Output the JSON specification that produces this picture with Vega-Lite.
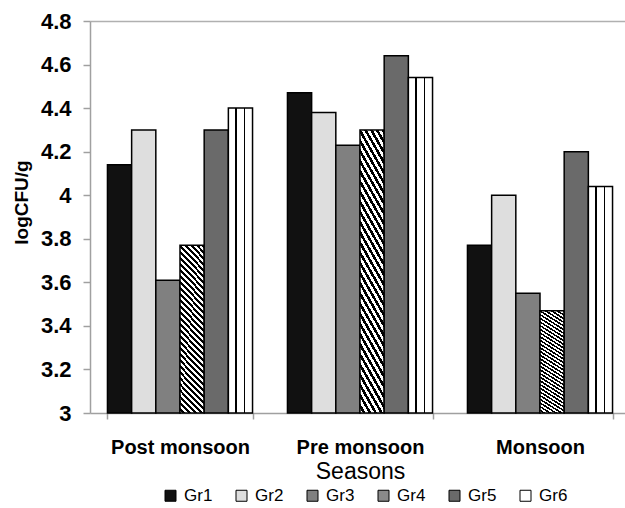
{
  "$schema": "https://vega.github.io/schema/vega-lite/v6.json",
  "width": 535,
  "height": 392,
  "autosize": {"type": "none"},
  "padding": {"left": 90, "top": 21, "right": 0, "bottom": 95},
  "background": "white",
  "config": {"view": {"stroke": null}, "font": "Liberation Sans"},
  "data": {
    "values": [
      {"season": "Post monsoon", "group": "Gr1", "value": 4.14},
      {"season": "Post monsoon", "group": "Gr2", "value": 4.30},
      {"season": "Post monsoon", "group": "Gr3", "value": 3.61},
      {"season": "Post monsoon", "group": "Gr4", "value": 3.77},
      {"season": "Post monsoon", "group": "Gr5", "value": 4.30},
      {"season": "Post monsoon", "group": "Gr6", "value": 4.40},
      {"season": "Pre monsoon", "group": "Gr1", "value": 4.47},
      {"season": "Pre monsoon", "group": "Gr2", "value": 4.38},
      {"season": "Pre monsoon", "group": "Gr3", "value": 4.23},
      {"season": "Pre monsoon", "group": "Gr4", "value": 4.30},
      {"season": "Pre monsoon", "group": "Gr5", "value": 4.64},
      {"season": "Pre monsoon", "group": "Gr6", "value": 4.54},
      {"season": "Monsoon", "group": "Gr1", "value": 3.77},
      {"season": "Monsoon", "group": "Gr2", "value": 4.00},
      {"season": "Monsoon", "group": "Gr3", "value": 3.55},
      {"season": "Monsoon", "group": "Gr4", "value": 3.47},
      {"season": "Monsoon", "group": "Gr5", "value": 4.20},
      {"season": "Monsoon", "group": "Gr6", "value": 4.04}
    ]
  },
  "mark": {"type": "bar", "stroke": "#000", "strokeWidth": 1.5},
  "encoding": {
    "x": {
      "field": "season",
      "type": "nominal",
      "sort": ["Post monsoon", "Pre monsoon", "Monsoon"],
      "scale": {"range": [0, 540], "paddingInner": 0.194, "paddingOuter": 0.097},
      "axis": {
        "labelAngle": 0,
        "labelFontSize": 20,
        "labelFontWeight": "bold",
        "labelColor": "#000",
        "labelPadding": 18,
        "tickBand": "extent",
        "tickColor": "#a0a0a0",
        "tickSize": 6,
        "tickWidth": 1.5,
        "domainColor": "#a0a0a0",
        "domainWidth": 1.5,
        "title": "Seasons",
        "titleFontSize": 23,
        "titleFontWeight": "normal",
        "titleColor": "#000",
        "titlePadding": 3
      }
    },
    "xOffset": {
      "field": "group",
      "type": "nominal",
      "scale": {"paddingInner": 0, "paddingOuter": 0}
    },
    "y": {
      "field": "value",
      "type": "quantitative",
      "scale": {"domain": [3, 4.8], "zero": false, "nice": false},
      "axis": {
        "values": [3, 3.2, 3.4, 3.6, 3.8, 4, 4.2, 4.4, 4.6, 4.8],
        "format": ".1~f",
        "labelFontSize": 22,
        "labelFontWeight": "bold",
        "labelColor": "#000",
        "labelPadding": 12,
        "tickColor": "#a0a0a0",
        "tickSize": 7,
        "tickWidth": 1.5,
        "domainColor": "#a0a0a0",
        "domainWidth": 1.5,
        "grid": true,
        "gridColor": "#b0b0b0",
        "gridWidth": 1.5,
        "gridOpacity": {"condition": {"test": "datum.value > 4.79", "value": 1}, "value": 0},
        "title": "logCFU/g",
        "titleFontSize": 19,
        "titleFontWeight": "bold",
        "titleColor": "#000",
        "titlePadding": 9,
        "titleY": 181
      }
    },
    "y2": {"datum": 3},
    "fill": {
      "field": "group",
      "type": "nominal",
      "scale": {
        "domain": ["Gr1", "Gr2", "Gr3", "Gr4", "Gr5", "Gr6"],
        "range": ["#111111", "#dedede", "#808080", "#8a8a8a", "#6a6a6a", "#ffffff"]
      },
      "condition": [
        {"test": "datum.group === 'Gr4'", "value": {"gradient": "linear", "x1": 1, "y1": 0, "x2": 0.831, "y2": 1.125, "stops": [
            {"offset": 0, "color": "#000"}, {"offset": 0.0156, "color": "#000"}, {"offset": 0.0156, "color": "#fff"}, {"offset": 0.0313, "color": "#fff"},
            {"offset": 0.0313, "color": "#000"}, {"offset": 0.0469, "color": "#000"}, {"offset": 0.0469, "color": "#fff"}, {"offset": 0.0625, "color": "#fff"},
            {"offset": 0.0625, "color": "#000"}, {"offset": 0.0781, "color": "#000"}, {"offset": 0.0781, "color": "#fff"}, {"offset": 0.0938, "color": "#fff"},
            {"offset": 0.0938, "color": "#000"}, {"offset": 0.1094, "color": "#000"}, {"offset": 0.1094, "color": "#fff"}, {"offset": 0.125, "color": "#fff"},
            {"offset": 0.125, "color": "#000"}, {"offset": 0.1406, "color": "#000"}, {"offset": 0.1406, "color": "#fff"}, {"offset": 0.1563, "color": "#fff"},
            {"offset": 0.1563, "color": "#000"}, {"offset": 0.1719, "color": "#000"}, {"offset": 0.1719, "color": "#fff"}, {"offset": 0.1875, "color": "#fff"},
            {"offset": 0.1875, "color": "#000"}, {"offset": 0.2031, "color": "#000"}, {"offset": 0.2031, "color": "#fff"}, {"offset": 0.2188, "color": "#fff"},
            {"offset": 0.2188, "color": "#000"}, {"offset": 0.2344, "color": "#000"}, {"offset": 0.2344, "color": "#fff"}, {"offset": 0.25, "color": "#fff"},
            {"offset": 0.25, "color": "#000"}, {"offset": 0.2656, "color": "#000"}, {"offset": 0.2656, "color": "#fff"}, {"offset": 0.2813, "color": "#fff"},
            {"offset": 0.2813, "color": "#000"}, {"offset": 0.2969, "color": "#000"}, {"offset": 0.2969, "color": "#fff"}, {"offset": 0.3125, "color": "#fff"},
            {"offset": 0.3125, "color": "#000"}, {"offset": 0.3281, "color": "#000"}, {"offset": 0.3281, "color": "#fff"}, {"offset": 0.3438, "color": "#fff"},
            {"offset": 0.3438, "color": "#000"}, {"offset": 0.3594, "color": "#000"}, {"offset": 0.3594, "color": "#fff"}, {"offset": 0.375, "color": "#fff"},
            {"offset": 0.375, "color": "#000"}, {"offset": 0.3906, "color": "#000"}, {"offset": 0.3906, "color": "#fff"}, {"offset": 0.4063, "color": "#fff"},
            {"offset": 0.4063, "color": "#000"}, {"offset": 0.4219, "color": "#000"}, {"offset": 0.4219, "color": "#fff"}, {"offset": 0.4375, "color": "#fff"},
            {"offset": 0.4375, "color": "#000"}, {"offset": 0.4531, "color": "#000"}, {"offset": 0.4531, "color": "#fff"}, {"offset": 0.4688, "color": "#fff"},
            {"offset": 0.4688, "color": "#000"}, {"offset": 0.4844, "color": "#000"}, {"offset": 0.4844, "color": "#fff"}, {"offset": 0.5, "color": "#fff"},
            {"offset": 0.5, "color": "#000"}, {"offset": 0.5156, "color": "#000"}, {"offset": 0.5156, "color": "#fff"}, {"offset": 0.5313, "color": "#fff"},
            {"offset": 0.5313, "color": "#000"}, {"offset": 0.5469, "color": "#000"}, {"offset": 0.5469, "color": "#fff"}, {"offset": 0.5625, "color": "#fff"},
            {"offset": 0.5625, "color": "#000"}, {"offset": 0.5781, "color": "#000"}, {"offset": 0.5781, "color": "#fff"}, {"offset": 0.5938, "color": "#fff"},
            {"offset": 0.5938, "color": "#000"}, {"offset": 0.6094, "color": "#000"}, {"offset": 0.6094, "color": "#fff"}, {"offset": 0.625, "color": "#fff"},
            {"offset": 0.625, "color": "#000"}, {"offset": 0.6406, "color": "#000"}, {"offset": 0.6406, "color": "#fff"}, {"offset": 0.6563, "color": "#fff"},
            {"offset": 0.6563, "color": "#000"}, {"offset": 0.6719, "color": "#000"}, {"offset": 0.6719, "color": "#fff"}, {"offset": 0.6875, "color": "#fff"},
            {"offset": 0.6875, "color": "#000"}, {"offset": 0.7031, "color": "#000"}, {"offset": 0.7031, "color": "#fff"}, {"offset": 0.7188, "color": "#fff"},
            {"offset": 0.7188, "color": "#000"}, {"offset": 0.7344, "color": "#000"}, {"offset": 0.7344, "color": "#fff"}, {"offset": 0.75, "color": "#fff"},
            {"offset": 0.75, "color": "#000"}, {"offset": 0.7656, "color": "#000"}, {"offset": 0.7656, "color": "#fff"}, {"offset": 0.7813, "color": "#fff"},
            {"offset": 0.7813, "color": "#000"}, {"offset": 0.7969, "color": "#000"}, {"offset": 0.7969, "color": "#fff"}, {"offset": 0.8125, "color": "#fff"},
            {"offset": 0.8125, "color": "#000"}, {"offset": 0.8281, "color": "#000"}, {"offset": 0.8281, "color": "#fff"}, {"offset": 0.8438, "color": "#fff"},
            {"offset": 0.8438, "color": "#000"}, {"offset": 0.8594, "color": "#000"}, {"offset": 0.8594, "color": "#fff"}, {"offset": 0.875, "color": "#fff"},
            {"offset": 0.875, "color": "#000"}, {"offset": 0.8906, "color": "#000"}, {"offset": 0.8906, "color": "#fff"}, {"offset": 0.9063, "color": "#fff"},
            {"offset": 0.9063, "color": "#000"}, {"offset": 0.9219, "color": "#000"}, {"offset": 0.9219, "color": "#fff"}, {"offset": 0.9375, "color": "#fff"},
            {"offset": 0.9375, "color": "#000"}, {"offset": 0.9531, "color": "#000"}, {"offset": 0.9531, "color": "#fff"}, {"offset": 0.9688, "color": "#fff"},
            {"offset": 0.9688, "color": "#000"}, {"offset": 0.9844, "color": "#000"}, {"offset": 0.9844, "color": "#fff"}, {"offset": 1, "color": "#fff"}
          ]}},
        {"test": "datum.group === 'Gr6'", "value": {"gradient": "linear", "x1": 0, "y1": 0, "x2": 1, "y2": 0, "stops": [
            {"offset": 0, "color": "#fff"}, {"offset": 0.293, "color": "#fff"},
            {"offset": 0.293, "color": "#000"}, {"offset": 0.373, "color": "#000"},
            {"offset": 0.373, "color": "#fff"}, {"offset": 0.627, "color": "#fff"},
            {"offset": 0.627, "color": "#000"}, {"offset": 0.707, "color": "#000"},
            {"offset": 0.707, "color": "#fff"}, {"offset": 1, "color": "#fff"}
          ]}}
      ],
      "legend": {
        "orient": "none",
        "legendX": 72,
        "legendY": 466,
        "direction": "horizontal",
        "columns": 6,
        "title": null,
        "padding": 0,
        "symbolType": "square",
        "symbolSize": 121,
        "symbolStrokeColor": "#000",
        "symbolStrokeWidth": 1,
        "symbolOpacity": 1,
        "labelFontSize": 17,
        "labelColor": "#000",
        "labelOffset": 5,
        "columnPadding": 20
      }
    }
  }
}
